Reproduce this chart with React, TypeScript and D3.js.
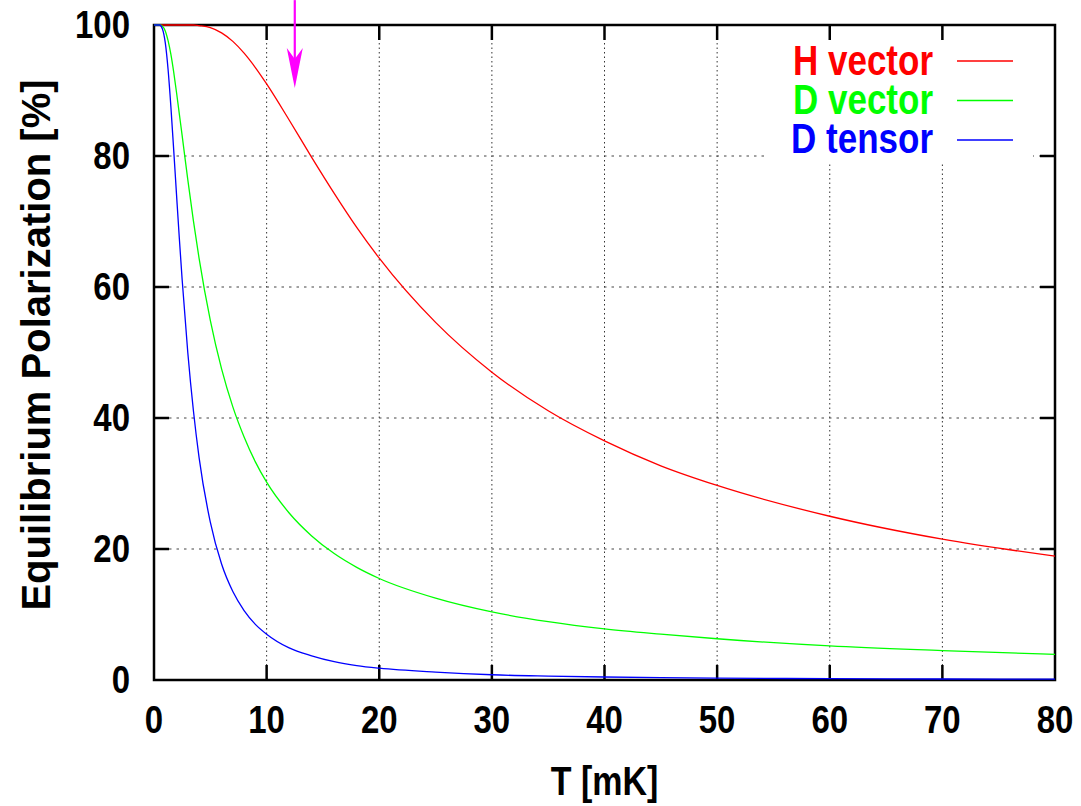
import React from 'react'
import * as d3 from 'd3'

// temperature samples (mK) and polarization (%)
const T_MK = [0, 0.5, 0.75, 1, 1.25, 1.5, 1.75, 2, 2.25, 2.5, 3, 3.5, 4, 5, 6, 7, 8, 9, 10, 12, 14, 16, 18, 20, 25, 30, 35, 40, 45, 50, 60, 70, 80]
const H_VECTOR = [100, 100, 100, 100, 100, 100, 100, 100, 100, 100, 100, 100, 99.9, 99.6, 98.8, 97.5, 95.7, 93.5, 91.0, 85.5, 79.8, 74.3, 69.1, 64.4, 54.6, 47.0, 41.1, 36.5, 32.7, 29.7, 25.0, 21.5, 18.9]
const D_VECTOR = [100, 100, 99.8, 99.1, 97.6, 95.5, 92.8, 89.7, 86.4, 83.1, 76.4, 70.1, 64.4, 54.9, 47.5, 41.7, 37.1, 33.3, 30.2, 25.5, 22.0, 19.3, 17.2, 15.5, 12.5, 10.4, 8.9, 7.8, 7.0, 6.3, 5.2, 4.5, 3.9]
const D_TENSOR = [100, 100, 99.4, 97.3, 93.2, 87.5, 80.9, 74.1, 67.4, 61.1, 50.0, 41.1, 34.0, 24.1, 17.7, 13.5, 10.6, 8.5, 7.0, 4.9, 3.7, 2.8, 2.2, 1.8, 1.2, 0.8, 0.6, 0.46, 0.36, 0.29, 0.2, 0.15, 0.12]

const SERIES = [
  { name: 'H vector', values: H_VECTOR, color: '#ff0000' },
  { name: 'D vector', values: D_VECTOR, color: '#00ff00' },
  { name: 'D tensor', values: D_TENSOR, color: '#0000ff' },
]

const X_TICKS = [0, 10, 20, 30, 40, 50, 60, 70, 80]
const Y_TICKS = [0, 20, 40, 60, 80, 100]

// magenta arrow marker
const ARROW_T = 12.5
const ARROW_FROM = 103.8
const ARROW_TO = 90.4

const W = 1081
const H = 806
const FONT = '"Liberation Sans", Arial, sans-serif'

export default function App() {
  const left = 154, right = 1055, top = 25, bottom = 680
  const x = d3.scaleLinear().domain([0, 80]).range([left, right])
  const y = d3.scaleLinear().domain([0, 100]).range([bottom, top])
  const tick = 15

  const line = (vals: number[]) =>
    d3.line<number>()
      .x((d, i) => x(T_MK[i]))
      .y(d => y(d))
      .curve(d3.curveMonotoneX)(vals)

  const ax = x(ARROW_T)
  const tipY = y(ARROW_TO)
  const shaftTop = y(ARROW_FROM)

  return (
    <svg width={W} height={H} style={{ position: 'absolute', left: 0, top: 0, background: '#fff' }}>
      {/* grid */}
      {X_TICKS.slice(1, -1).map(t => (
        <line key={'gx' + t} x1={x(t)} x2={x(t)} y1={top} y2={bottom}
          stroke="#333" strokeWidth={1} strokeDasharray="1.5,3" />
      ))}
      {Y_TICKS.slice(1, -1).map(t => (
        <line key={'gy' + t} x1={left} x2={right} y1={y(t)} y2={y(t)}
          stroke="#444" strokeWidth={1} strokeDasharray="2.5,5" />
      ))}

      {/* key background */}
      <rect x={765} y={40} width={268} height={122} fill="#fff" />

      {/* ticks */}
      {X_TICKS.slice(1, -1).map(t => (
        <g key={'tx' + t}>
          <line x1={x(t)} x2={x(t)} y1={bottom} y2={bottom - tick} stroke="#000" strokeWidth={2.5} />
          <line x1={x(t)} x2={x(t)} y1={top} y2={top + tick} stroke="#000" strokeWidth={2.5} />
        </g>
      ))}
      {Y_TICKS.slice(1, -1).map(t => (
        <g key={'ty' + t}>
          <line x1={left} x2={left + tick} y1={y(t)} y2={y(t)} stroke="#000" strokeWidth={2.5} />
          <line x1={right} x2={right - tick} y1={y(t)} y2={y(t)} stroke="#000" strokeWidth={2.5} />
        </g>
      ))}

      {/* frame */}
      <rect x={left} y={top} width={right - left} height={bottom - top} fill="none" stroke="#000" strokeWidth={2.5} />

      {/* tick labels */}
      {X_TICKS.map(t => (
        <text key={'lx' + t} transform={`translate(${x(t)},733) scale(1,1.2)`} textAnchor="middle"
          fontFamily={FONT} fontWeight="bold" fontSize={33}>{t}</text>
      ))}
      {Y_TICKS.map(t => (
        <text key={'ly' + t} transform={`translate(130,${y(t) + 12.5}) scale(1,1.2)`} textAnchor="end"
          fontFamily={FONT} fontWeight="bold" fontSize={33}>{t}</text>
      ))}

      {/* axis titles */}
      <text transform={`translate(${(left + right) / 2},795) scale(1,1.18)`} textAnchor="middle"
        fontFamily={FONT} fontWeight="bold" fontSize={34}>T [mK]</text>
      <text transform={`translate(50,345) rotate(-90)`} textAnchor="middle"
        fontFamily={FONT} fontWeight="bold" fontSize={40}>Equilibrium Polarization [%]</text>

      {/* curves */}
      {SERIES.map(s => (
        <path key={s.name} d={line(s.values) || ''} fill="none" stroke={s.color} strokeWidth={1.3} />
      ))}

      {/* legend */}
      {SERIES.map((s, i) => (
        <g key={'k' + s.name}>
          <text transform={`translate(933,${75 + i * 39}) scale(1,1.2)`} textAnchor="end"
            fontFamily={FONT} fontWeight="bold" fontSize={35} fill={s.color}>{s.name}</text>
          <line x1={957} x2={1013} y1={61 + i * 39.5} y2={61 + i * 39.5} stroke={s.color} strokeWidth={1.3} />
        </g>
      ))}

      {/* arrow */}
      <line x1={ax} x2={ax} y1={shaftTop} y2={tipY - 28} stroke="#ff00ff" strokeWidth={2.2} />
      <path d={`M${ax},${tipY} L${ax - 8},${tipY - 40} L${ax},${tipY - 29} L${ax + 8},${tipY - 40} Z`} fill="#ff00ff" />
    </svg>
  )
}
